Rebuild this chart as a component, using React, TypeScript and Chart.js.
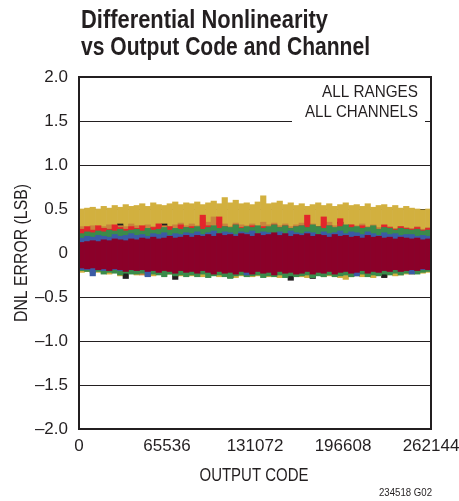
import React, { useEffect, useRef } from "react";
import { Chart, registerables } from "chart.js";

Chart.register(...registerables);

const TITLE_LINES = ["Differential Nonlinearity", "vs Output Code and Channel"];
const X_TITLE = "OUTPUT CODE";
const Y_TITLE = "DNL ERROR (LSB)";
const NOTE_LINES = ["ALL RANGES", "ALL CHANNELS"];
const FIG_ID = "234518 G02";

const CODE_MAX = 262144;
const X_TICKS = [0, 65536, 131072, 196608, 262144];
const Y_MIN = -2;
const Y_MAX = 2;
const Y_STEP = 0.5;

// 64 code bins, 4096 codes each
const darkRedTop = [
  0.12, 0.13, 0.14, 0.13, 0.15, 0.14, 0.16, 0.15, 0.14, 0.16,
  0.15, 0.17, 0.16, 0.18, 0.16, 0.17, 0.19, 0.17, 0.18, 0.2,
  0.18, 0.2, 0.19, 0.21, 0.19, 0.22, 0.2, 0.21, 0.19, 0.22,
  0.21, 0.19, 0.22, 0.2, 0.21, 0.23, 0.2, 0.22, 0.19, 0.21,
  0.2, 0.22, 0.19, 0.21, 0.2, 0.18, 0.21, 0.19, 0.2, 0.18,
  0.19, 0.17, 0.2, 0.18, 0.19, 0.17, 0.18, 0.16, 0.18, 0.17,
  0.16, 0.17, 0.15, 0.16,
];
const darkRedBottom = [
  -0.17, -0.18, -0.17, -0.19, -0.18, -0.2, -0.18, -0.19, -0.21, -0.19,
  -0.2, -0.19, -0.21, -0.2, -0.22, -0.2, -0.21, -0.23, -0.2, -0.22,
  -0.21, -0.23, -0.2, -0.22, -0.24, -0.21, -0.23, -0.22, -0.24, -0.21,
  -0.22, -0.24, -0.21, -0.23, -0.22, -0.25, -0.21, -0.23, -0.22, -0.24,
  -0.23, -0.21, -0.24, -0.22, -0.23, -0.21, -0.24, -0.22, -0.21, -0.23,
  -0.22, -0.2, -0.23, -0.21, -0.22, -0.2, -0.21, -0.19, -0.21, -0.2,
  -0.19, -0.2, -0.18, -0.19,
];
const blueTop = [
  0.17, 0.19, 0.18, 0.2, 0.19, 0.18, 0.21, 0.19, 0.2, 0.22,
  0.2, 0.21, 0.19, 0.22, 0.21, 0.23, 0.2, 0.22, 0.21, 0.23,
  0.22, 0.24, 0.21, 0.23, 0.25, 0.22, 0.24, 0.23, 0.21, 0.24,
  0.23, 0.25, 0.22, 0.24, 0.23, 0.21, 0.24, 0.22, 0.25, 0.23,
  0.22, 0.24, 0.23, 0.21, 0.24, 0.22, 0.23, 0.25, 0.22, 0.24,
  0.23, 0.21, 0.24, 0.22, 0.2, 0.23, 0.21, 0.22, 0.2, 0.21,
  0.21, 0.19, 0.2, 0.19,
];
const blueBottom = [
  -0.19, -0.19, -0.26, -0.19, -0.2, -0.19, -0.19, -0.2, -0.19, -0.19,
  -0.2, -0.19, -0.27, -0.19, -0.2, -0.19, -0.2, -0.19, -0.19, -0.2,
  -0.19, -0.2, -0.19, -0.19, -0.2, -0.19, -0.2, -0.19, -0.19, -0.2,
  -0.25, -0.19, -0.2, -0.19, -0.19, -0.2, -0.19, -0.2, -0.19, -0.19,
  -0.2, -0.19, -0.19, -0.2, -0.19, -0.19, -0.2, -0.19, -0.19, -0.2,
  -0.26, -0.19, -0.2, -0.19, -0.19, -0.2, -0.19, -0.19, -0.2, -0.19,
  -0.24, -0.19, -0.19, -0.18,
];
const greenTop = [
  0.22, 0.24, 0.23, 0.25, 0.24, 0.26, 0.25, 0.27, 0.25, 0.26,
  0.27, 0.25, 0.28, 0.26, 0.27, 0.29, 0.26, 0.28, 0.27, 0.29,
  0.28, 0.3, 0.27, 0.29, 0.31, 0.28, 0.3, 0.29, 0.32, 0.28,
  0.3, 0.29, 0.31, 0.28, 0.3, 0.32, 0.29, 0.31, 0.28, 0.3,
  0.31, 0.29, 0.32, 0.3, 0.28, 0.31, 0.29, 0.3, 0.32, 0.29,
  0.3, 0.28, 0.29, 0.31, 0.27, 0.29, 0.28, 0.26, 0.28, 0.27,
  0.26, 0.27, 0.25, 0.26,
];
const greenBottom = [
  -0.2, -0.21, -0.22, -0.21, -0.24, -0.22, -0.23, -0.25, -0.23, -0.24,
  -0.24, -0.23, -0.26, -0.24, -0.25, -0.27, -0.24, -0.26, -0.25, -0.27,
  -0.25, -0.27, -0.24, -0.28, -0.26, -0.25, -0.27, -0.29, -0.26, -0.25,
  -0.27, -0.26, -0.25, -0.28, -0.26, -0.27, -0.25, -0.28, -0.26, -0.27,
  -0.26, -0.25, -0.28, -0.26, -0.27, -0.25, -0.27, -0.26, -0.25, -0.27,
  -0.26, -0.24, -0.27, -0.25, -0.26, -0.24, -0.25, -0.23, -0.25, -0.23,
  -0.22, -0.24, -0.22, -0.21,
];
const redTop = [
  0.27, 0.3, 0.26, 0.31, 0.28, 0.27, 0.32, 0.29, 0.27, 0.3,
  0.28, 0.31, 0.27, 0.29, 0.33, 0.28, 0.3, 0.27, 0.32, 0.29,
  0.3, 0.28, 0.43, 0.31, 0.29, 0.41, 0.3, 0.28, 0.32, 0.29,
  0.28, 0.31, 0.29, 0.3, 0.28, 0.32, 0.29, 0.31, 0.28, 0.3,
  0.31, 0.43, 0.29, 0.3, 0.41, 0.31, 0.28, 0.39, 0.3, 0.32,
  0.29, 0.31, 0.28, 0.3, 0.27, 0.32, 0.29, 0.27, 0.3, 0.28,
  0.27, 0.29, 0.26, 0.28,
];
const redBottom = [
  -0.18, -0.18, -0.19, -0.18, -0.18, -0.19, -0.18, -0.18, -0.19, -0.18,
  -0.18, -0.19, -0.18, -0.18, -0.19, -0.18, -0.18, -0.19, -0.18, -0.18,
  -0.19, -0.18, -0.18, -0.19, -0.18, -0.18, -0.19, -0.18, -0.18, -0.19,
  -0.18, -0.18, -0.19, -0.18, -0.18, -0.19, -0.18, -0.18, -0.19, -0.18,
  -0.18, -0.19, -0.18, -0.18, -0.19, -0.18, -0.18, -0.19, -0.18, -0.25,
  -0.18, -0.19, -0.18, -0.18, -0.19, -0.18, -0.18, -0.19, -0.18, -0.18,
  -0.19, -0.18, -0.18, -0.17,
];
const orangeTop = [
  0.3, 0.28, 0.31, 0.29, 0.3, 0.32, 0.29, 0.31, 0.3, 0.33,
  0.31, 0.29, 0.32, 0.3, 0.33, 0.31, 0.3, 0.32, 0.34, 0.31,
  0.33, 0.31, 0.4, 0.35, 0.41, 0.32, 0.33, 0.3, 0.34, 0.32,
  0.31, 0.33, 0.3, 0.35, 0.32, 0.34, 0.31, 0.33, 0.3, 0.32,
  0.34, 0.31, 0.33, 0.3, 0.32, 0.35, 0.31, 0.33, 0.3, 0.32,
  0.31, 0.33, 0.3, 0.32, 0.29, 0.31, 0.3, 0.28, 0.3, 0.29,
  0.28, 0.3, 0.27, 0.29,
];
const orangeBottom = [
  -0.19, -0.19, -0.2, -0.19, -0.19, -0.2, -0.19, -0.19, -0.2, -0.19,
  -0.19, -0.25, -0.19, -0.2, -0.19, -0.19, -0.2, -0.19, -0.19, -0.2,
  -0.19, -0.19, -0.2, -0.19, -0.19, -0.2, -0.19, -0.19, -0.2, -0.19,
  -0.19, -0.2, -0.19, -0.26, -0.19, -0.2, -0.19, -0.19, -0.2, -0.19,
  -0.19, -0.2, -0.19, -0.19, -0.2, -0.19, -0.19, -0.2, -0.19, -0.19,
  -0.2, -0.19, -0.19, -0.2, -0.19, -0.19, -0.2, -0.19, -0.19, -0.2,
  -0.19, -0.19, -0.2, -0.19,
];
const blackTop = [
  0.1, 0.11, 0.1, 0.1, 0.11, 0.1, 0.1, 0.33, 0.1, 0.11,
  0.1, 0.1, 0.11, 0.1, 0.1, 0.33, 0.1, 0.11, 0.1, 0.1,
  0.11, 0.1, 0.1, 0.11, 0.34, 0.1, 0.1, 0.11, 0.1, 0.1,
  0.11, 0.1, 0.1, 0.11, 0.1, 0.1, 0.11, 0.1, 0.1, 0.11,
  0.1, 0.1, 0.11, 0.1, 0.1, 0.11, 0.1, 0.35, 0.1, 0.11,
  0.1, 0.1, 0.11, 0.1, 0.1, 0.11, 0.1, 0.1, 0.11, 0.1,
  0.1, 0.11, 0.1, 0.1,
];
const blackBottom = [
  -0.18, -0.18, -0.18, -0.18, -0.18, -0.18, -0.18, -0.18, -0.29, -0.18,
  -0.18, -0.18, -0.18, -0.18, -0.18, -0.18, -0.18, -0.3, -0.18, -0.18,
  -0.18, -0.18, -0.18, -0.18, -0.18, -0.18, -0.18, -0.28, -0.18, -0.18,
  -0.18, -0.18, -0.18, -0.18, -0.18, -0.18, -0.18, -0.18, -0.31, -0.18,
  -0.18, -0.18, -0.29, -0.18, -0.18, -0.18, -0.18, -0.18, -0.18, -0.18,
  -0.18, -0.18, -0.18, -0.18, -0.18, -0.28, -0.18, -0.18, -0.18, -0.18,
  -0.18, -0.18, -0.18, -0.18,
];
const yellowTop = [
  0.5, 0.51, 0.52, 0.5, 0.53, 0.51, 0.54, 0.52, 0.55, 0.53,
  0.54, 0.56, 0.53, 0.57, 0.55, 0.54, 0.56, 0.58, 0.55, 0.57,
  0.56, 0.58, 0.55, 0.57, 0.59, 0.56, 0.63, 0.57, 0.6, 0.56,
  0.57, 0.55, 0.58, 0.65, 0.56, 0.57, 0.59, 0.55, 0.57, 0.54,
  0.56, 0.53, 0.55, 0.57, 0.54, 0.56, 0.53, 0.55, 0.57, 0.54,
  0.55, 0.53, 0.56, 0.52, 0.54, 0.55, 0.52, 0.54, 0.51, 0.53,
  0.51, 0.5, 0.49, 0.5,
];
const yellowBottom = [
  -0.22, -0.21, -0.23, -0.22, -0.23, -0.24, -0.22, -0.26, -0.24, -0.23,
  -0.25, -0.24, -0.23, -0.26, -0.24, -0.25, -0.24, -0.27, -0.26, -0.25,
  -0.26, -0.25, -0.27, -0.25, -0.24, -0.27, -0.26, -0.25, -0.28, -0.26,
  -0.25, -0.27, -0.26, -0.25, -0.27, -0.26, -0.28, -0.25, -0.27, -0.26,
  -0.27, -0.28, -0.26, -0.25, -0.27, -0.26, -0.25, -0.28, -0.3, -0.27,
  -0.25, -0.27, -0.26, -0.28, -0.25, -0.27, -0.24, -0.26, -0.25, -0.24,
  -0.24, -0.22, -0.23, -0.22,
];

// first entry is drawn on top
const SERIES = [
  { name: "CH A", color: "#8b0029", top: darkRedTop, bottom: darkRedBottom },
  { name: "CH B", color: "#3b5ba5", top: blueTop, bottom: blueBottom },
  { name: "CH C", color: "#3a8b4b", top: greenTop, bottom: greenBottom },
  { name: "CH D", color: "#e3262b", top: redTop, bottom: redBottom },
  { name: "CH E", color: "#c7843d", top: orangeTop, bottom: orangeBottom },
  { name: "CH F", color: "#231f20", top: blackTop, bottom: blackBottom },
  { name: "CH G", color: "#d2b03f", top: yellowTop, bottom: yellowBottom },
];

const FONT = "'Liberation Sans', Arial, sans-serif";
const INK = "#231f20";

const textPlugin = {
  id: "dnlText",
  afterDraw(chart: any) {
    const { ctx, chartArea } = chart;
    const { left, right, top, bottom } = chartArea;
    ctx.save();
    // white knock-out behind note text
    ctx.fillStyle = "#ffffff";
    ctx.fillRect(292, chart.scales.y.getPixelForValue(1.5) - 3, 133, 6);
    // plot frame
    ctx.strokeStyle = INK;
    ctx.lineWidth = 2;
    ctx.strokeRect(left, top, right - left, bottom - top);

    ctx.fillStyle = INK;
    ctx.textBaseline = "alphabetic";
    // title
    ctx.textAlign = "left";
    ctx.font = `bold 25px ${FONT}`;
    ctx.fillText(TITLE_LINES[0], 81, 28, 247);
    ctx.fillText(TITLE_LINES[1], 81, 55, 289);
    // notes
    ctx.textAlign = "right";
    ctx.font = `17px ${FONT}`;
    ctx.fillText(NOTE_LINES[0], 418, 97, 96);
    ctx.fillText(NOTE_LINES[1], 418, 117, 113);
    // x title
    ctx.textAlign = "center";
    ctx.font = `18px ${FONT}`;
    ctx.fillText(X_TITLE, 254, 481, 109);
    // y title
    ctx.save();
    ctx.translate(27, 253);
    ctx.rotate(-Math.PI / 2);
    ctx.textAlign = "center";
    ctx.fillText(Y_TITLE, 0, 0, 138);
    ctx.restore();
    // figure id
    ctx.textAlign = "right";
    ctx.font = `11px ${FONT}`;
    ctx.fillText(FIG_ID, 432, 496, 53);
    ctx.restore();
  },
};

export default function App() {
  const ref = useRef<HTMLCanvasElement | null>(null);
  useEffect(() => {
    if (!ref.current) return;
    const binWidth = CODE_MAX / darkRedTop.length;
    const datasets = SERIES.map((s) => ({
      label: s.name,
      data: s.top.map((t, i) => ({ x: (i + 0.5) * binWidth, y: [s.bottom[i], t] })),
      backgroundColor: s.color,
      borderWidth: 0,
      barPercentage: 1,
      categoryPercentage: 1,
      grouped: false,
    }));
    const chart = new Chart(ref.current, {
      type: "bar",
      data: { datasets: datasets as any },
      plugins: [textPlugin],
      options: {
        responsive: false,
        animation: false,
        events: [],
        layout: { padding: { top: 77, right: 28, left: 0, bottom: 0 } },
        plugins: { legend: { display: false }, tooltip: { enabled: false }, title: { display: false } },
        scales: {
          x: {
            type: "linear",
            min: 0,
            max: CODE_MAX,
            offset: false,
            grid: { display: false, drawTicks: false },
            border: { display: false },
            afterBuildTicks: (scale: any) => {
              scale.ticks = X_TICKS.map((v) => ({ value: v }));
            },
            afterFit: (scale: any) => {
              scale.height = 72;
              scale.paddingLeft = 0;
              scale.paddingRight = 0;
            },
            ticks: {
              autoSkip: false,
              maxRotation: 0,
              padding: 7,
              color: INK,
              font: { family: FONT, size: 17 },
              callback: (v: any) => String(v),
            },
          },
          y: {
            min: Y_MIN,
            max: Y_MAX,
            afterFit: (scale: any) => {
              scale.width = 79;
              scale.paddingTop = 0;
              scale.paddingBottom = 0;
            },
            grid: { color: INK, lineWidth: 1, drawTicks: false },
            border: { display: false },
            ticks: {
              stepSize: Y_STEP,
              autoSkip: false,
              padding: 11,
              color: INK,
              font: { family: FONT, size: 17 },
              callback: (v: any) => {
                const n = Number(v);
                if (n === 0) return "0";
                return (n < 0 ? "\u2013" : "") + Math.abs(n).toFixed(1);
              },
            },
          },
        },
      },
    });
    return () => chart.destroy();
  }, []);
  return (
    <canvas
      ref={ref}
      width={459}
      height={501}
      style={{ position: "fixed", left: 0, top: 0, width: 459, height: 501, background: "#fff" }}
    />
  );
}
